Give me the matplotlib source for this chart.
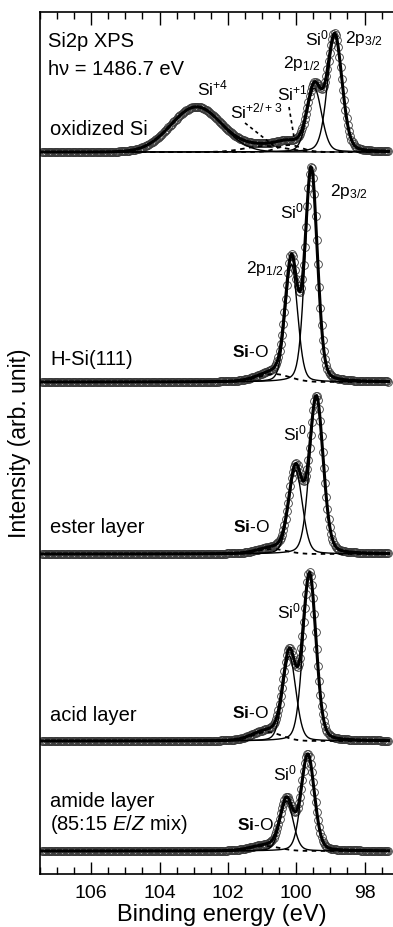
import numpy as np
import matplotlib
matplotlib.use("Agg")
import matplotlib.pyplot as plt
from matplotlib.lines import Line2D
from matplotlib.ticker import MultipleLocator

plt.rcParams['font.family'] = ['Liberation Sans', 'DejaVu Sans']
plt.rcParams['mathtext.fontset'] = 'custom'
plt.rcParams['mathtext.rm'] = 'Liberation Sans'
plt.rcParams['mathtext.it'] = 'Liberation Sans:italic'
plt.rcParams['mathtext.bf'] = 'Liberation Sans:bold'

# ---------------- data ----------------
samples = ["oxidized Si", "H-Si(111)", "ester layer", "acid layer", "amide layer"]
offsets = [722, 492, 320, 133, 23]           # vertical offsets (arb. unit)

# Si0 2p3/2 and 2p1/2 fitted components
si0_32_pos = [98.87, 99.56, 99.41, 99.61, 99.66]
si0_32_height = [116, 212, 156, 166, 96]
si0_12_pos = [99.47, 100.14, 100.02, 100.20, 100.28]
si0_12_height = [64, 118, 84, 85, 50]
si0_fwhm = [0.50, 0.42, 0.47, 0.45, 0.45]

# oxide related small components (dashed)
oxide_pos = [[100.2, 100.9], [100.65], [100.7], [100.85], [100.9]]
oxide_height = [[7, 6], [8], [5], [9], [5]]
oxide_fwhm = [[0.8, 1.4], [1.1], [1.0], [1.0], [1.0]]

# Si+4 component of the oxidized sample
si4_pos = 102.92
si4_height = 45
si4_fwhm = 1.75

# measurement energies (eV)
energy = np.arange(97.30, 107.45, 0.035)

xticks = [106, 104, 102, 100, 98]

# ---------------- helpers ----------------
W, H = 393, 928


def pv(E, c, h, fw, eta=0.2):
    s = fw / 2.3548
    g = np.exp(-0.5 * ((E - c) / s) ** 2)
    lo = 1.0 / (1.0 + (2 * (E - c) / fw) ** 2)
    return h * ((1 - eta) * g + eta * lo)


def fp(x, y):
    return x / W, 1 - y / H


fig = plt.figure(figsize=(W / 100, H / 100), dpi=100)
ax = fig.add_axes([40 / W, 1 - 875 / H, 357 / W, 862 / H])
ax.set_xlim(107.5, 97.05)
ax.set_ylim(0, 862)

for i in range(len(samples)):
    off = offsets[i]
    c32 = pv(energy, si0_32_pos[i], si0_32_height[i], si0_fwhm[i])
    c12 = pv(energy, si0_12_pos[i], si0_12_height[i], si0_fwhm[i])
    ox = [pv(energy, p, h, f, eta=0.0) for p, h, f in
          zip(oxide_pos[i], oxide_height[i], oxide_fwhm[i])]
    total = c32 + c12 + sum(ox)
    comps = [c32, c12]
    if i == 0:
        c4 = pv(energy, si4_pos, si4_height, si4_fwhm, eta=0.0)
        total = total + c4
        comps.append(c4)
    ax.plot(energy, off + total, linestyle='none', marker='o', ms=5.6,
            mfc='none', mec='#3a3a3a', mew=0.6, zorder=2)
    for c in comps:
        ax.plot(energy, off + c, color='black', lw=1.0, zorder=3)
    for c in ox:
        ax.plot(energy, off + c, color='black', lw=1.3,
                linestyle=(0, (2.5, 2.5)), zorder=3)
    ax.plot(energy, off + total, color='black', lw=2.2, zorder=4)

# axes styling
for sp in ['left', 'top', 'bottom', 'right']:
    ax.spines[sp].set_linewidth(1.2)
ax.set_xticks(xticks)
ax.xaxis.set_minor_locator(MultipleLocator(0.5))
ax.tick_params(axis='x', which='both', direction='in', top=True, bottom=True,
               labelsize=14, pad=7)
ax.tick_params(axis='x', which='major', length=9, width=1.0)
ax.tick_params(axis='x', which='minor', length=5, width=1.0)
ax.set_yticks([])

fig.text(*fp(222, 915), "Binding energy (eV)", fontsize=17,
         ha='center', va='center')
fig.text(*fp(20, 443), "Intensity (arb. unit)", fontsize=16.5,
         rotation=90, ha='center', va='center')

# ---------------- annotations ----------------
big = 14.5
small = 12.5
txt = [
    (48, 47, "Si2p XPS", big),
    (48, 75, "h\u03bd = 1486.7 eV", big),
    (50, 135, samples[0], big),
    (197, 95, r"Si$^{+4}$", small),
    (230, 118, r"Si$^{+2/+3}$", small),
    (277, 100, r"Si$^{+1}$", small),
    (283, 68, r"2p$_{1/2}$", small),
    (305, 45, r"Si$^{0}$", small),
    (345, 43, r"2p$_{3/2}$", small),
    (330, 196, r"2p$_{3/2}$", small),
    (280, 218, r"Si$^{0}$", small),
    (246, 273, r"2p$_{1/2}$", small),
    (232, 357, r"$\mathbf{Si}$-O", small),
    (50, 365, samples[1], big),
    (283, 440, r"Si$^{0}$", small),
    (233, 532, r"$\mathbf{Si}$-O", small),
    (50, 533, samples[2], big),
    (277, 618, r"Si$^{0}$", small),
    (232, 718, r"$\mathbf{Si}$-O", small),
    (50, 721, samples[3], big),
    (273, 780, r"Si$^{0}$", small),
    (50, 807, samples[4], big),
    (50, 830, r"(85:15 $\mathit{E}$/$\mathit{Z}$ mix)", big),
    (237, 830, r"$\mathbf{Si}$-O", small),
]
for x, y, s, fs in txt:
    fig.text(*fp(x, y), s, fontsize=fs, ha='left', va='baseline')

# dotted leader lines
for (x0, y0), (x1, y1) in [((245, 124), (274, 147)), ((289, 108), (294, 138))]:
    fig.add_artist(Line2D([x0 / W, x1 / W], [1 - y0 / H, 1 - y1 / H],
                          transform=fig.transFigure, color='black', lw=1.2,
                          linestyle=(0, (2, 2))))

fig.savefig("out.png", dpi=100)
